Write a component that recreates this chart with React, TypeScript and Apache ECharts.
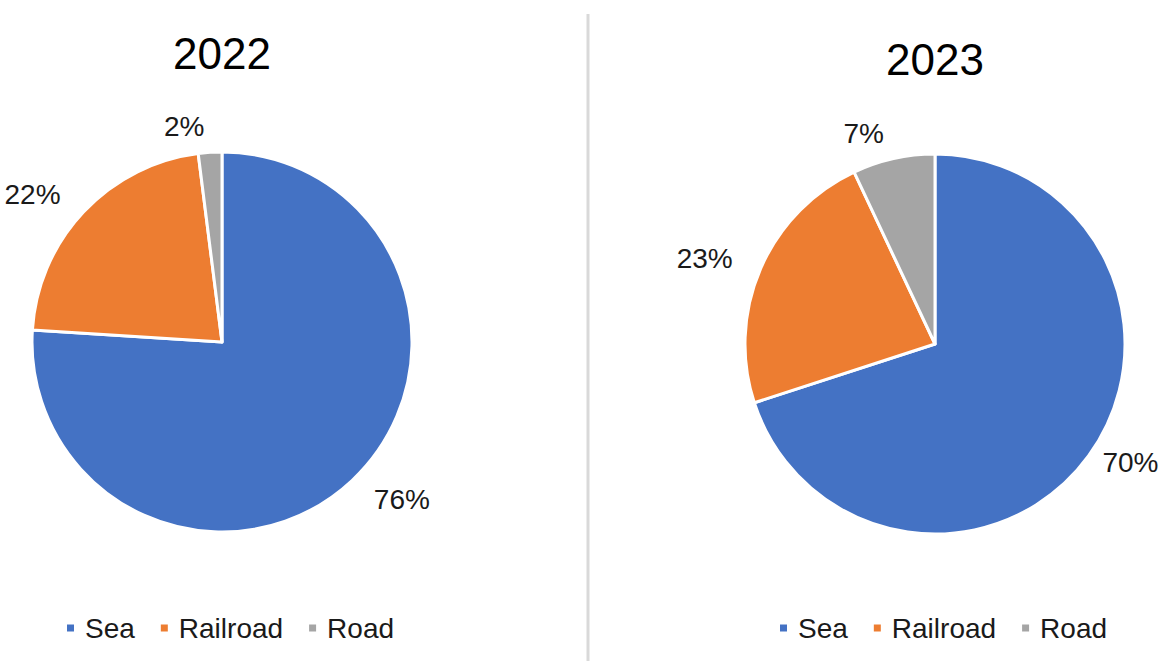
import React, { useEffect, useRef } from "react";
import * as echarts from "echarts";

const categories = ["Sea", "Railroad", "Road"];
const values2022 = [76, 22, 2];
const values2023 = [70, 23, 7];
const years = ["2022", "2023"];
const colors = ["#4472C4", "#ED7D31", "#A5A5A5"];

const FONT = "'Liberation Sans', Arial, sans-serif";

export default function App() {
  const ref = useRef<HTMLDivElement>(null);
  useEffect(() => {
    if (!ref.current) return;
    const chart = echarts.init(ref.current, undefined, { renderer: "svg" });
    const makeSeries = (vals: number[], center: [number, number], lens: number[]) => ({
      type: "pie",
      center,
      radius: 190,
      startAngle: 90,
      clockwise: true,
      avoidLabelOverlap: false,
      data: categories.map((c, i) => ({
        name: c,
        value: vals[i],
        labelLine: { show: false, length: lens[i], length2: 0 },
      })),
      itemStyle: { borderColor: "#ffffff", borderWidth: 3 },
      label: {
        show: true,
        position: "outside",
        formatter: "{c}%",
        fontSize: 28,
        fontFamily: FONT,
        color: "#1a1a1a",
        distanceToLabelLine: 4,
      },
      labelLine: { show: false, length: 26, length2: 0 },
      emphasis: { disabled: true },
    });
    const legendBase = {
      data: categories,
      top: 609,
      icon: "rect",
      itemWidth: 9,
      itemHeight: 9,
      itemGap: 24,
      textStyle: { fontSize: 28, color: "#1a1a1a", fontFamily: FONT, padding: [0, 0, 0, 5] },
      selectedMode: false,
    };
    chart.setOption({
      animation: false,
      color: colors,
      textStyle: { fontFamily: FONT },
      title: [
        {
          text: years[0],
          left: 217,
          top: 26,
          textAlign: "center",
          textStyle: { fontSize: 44, fontWeight: "normal", color: "#000", fontFamily: FONT },
        },
        {
          text: years[1],
          left: 930,
          top: 32,
          textAlign: "center",
          textStyle: { fontSize: 44, fontWeight: "normal", color: "#000", fontFamily: FONT },
        },
      ],
      legend: [
        { ...legendBase, left: 60 },
        { ...legendBase, left: 773 },
      ],
      graphic: [
        {
          type: "line",
          shape: { x1: 588, y1: 14, x2: 588, y2: 661 },
          style: { stroke: "#d9d9d9", lineWidth: 3 },
          silent: true,
        },
      ],
      series: [
        makeSeries(values2022, [222, 342], [26, 26, 26]),
        makeSeries(values2023, [935, 344], [12, 26, 26]),
      ],
    });
    return () => chart.dispose();
  }, []);
  return (
    <div
      ref={ref}
      style={{ position: "absolute", left: 0, top: 0, width: 1165, height: 661, background: "#fff" }}
    />
  );
}
